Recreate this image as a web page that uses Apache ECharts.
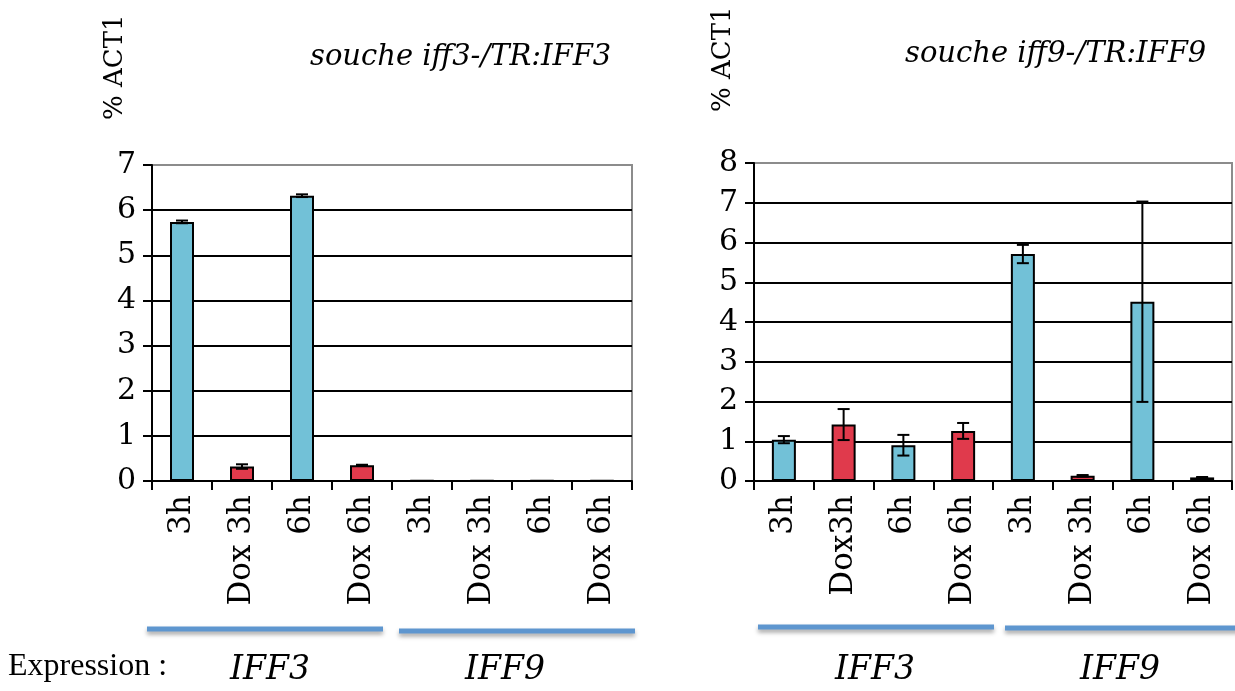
<!DOCTYPE html>
<html>
<head>
<meta charset="utf-8">
<script src="https://cdn.jsdelivr.net/npm/echarts@6/dist/echarts.min.js"></script>
<style>
html,body{margin:0;padding:0;background:#fff;}
#chart{width:1235px;height:691px;}
</style>
</head>
<body>
<div id="chart"></div>
<script>
// ---- data ----
const categoriesLeft = ['3h', 'Dox 3h', '6h', 'Dox 6h', '3h', 'Dox 3h', '6h', 'Dox 6h'];
const categoriesRight = ['3h', 'Dox3h', '6h', 'Dox 6h', '3h', 'Dox 3h', '6h', 'Dox 6h'];
const valuesLeft = [5.74, 0.32, 6.32, 0.35, 0.01, 0.01, 0.01, 0.01];
const errorsLeft = [0.03, 0.05, 0.03, 0.01, 0, 0, 0, 0];
const valuesRight = [1.04, 1.42, 0.90, 1.26, 5.71, 0.13, 4.51, 0.09];
const errorsRight = [0.09, 0.39, 0.26, 0.20, 0.23, 0.02, 2.52, 0.01];
const yTicksLeft = [0, 1, 2, 3, 4, 5, 6, 7];
const yTicksRight = [0, 1, 2, 3, 4, 5, 6, 7, 8];
const titleLeft = 'souche iff3-/TR:IFF3';
const titleRight = 'souche iff9-/TR:IFF9';
const yName = '% ACT1';
const groupNames = ['IFF3', 'IFF9'];
const expressionLabel = 'Expression :';

// ---- style ----
const BLUE = '#72C1D7';
const RED = '#E03A4C';
const FONT = '"DejaVu Serif", "Liberation Serif", serif';
const FONT2 = '"Liberation Serif", "DejaVu Serif", serif';

const chart = echarts.init(document.getElementById('chart'));

function barColor(cats) {
  return p => (cats[p.dataIndex].indexOf('Dox') === 0 ? RED : BLUE);
}
function errData(vals, errs) {
  return vals.map((v, i) => [i, Math.max(0, v - errs[i]), v + errs[i]]);
}
function renderErr(params, api) {
  const x = api.value(0), lo = api.value(1), hi = api.value(2);
  if (hi - lo <= 0) return null;
  const a = api.coord([x, hi]);
  const b = api.coord([x, lo]);
  const w = 12;
  const st = {stroke: '#000', lineWidth: 2};
  return {
    type: 'group',
    children: [
      {type: 'line', shape: {x1: a[0], y1: a[1], x2: b[0], y2: b[1]}, style: st},
      {type: 'line', shape: {x1: a[0] - w / 2, y1: a[1], x2: a[0] + w / 2, y2: a[1]}, style: st},
      {type: 'line', shape: {x1: b[0] - w / 2, y1: b[1], x2: b[0] + w / 2, y2: b[1]}, style: st}
    ]
  };
}
function splitColors(n) {
  const arr = [];
  for (let i = 0; i < n; i++) arr.push(i === n - 1 ? '#8c8c8c' : '#000');
  return arr;
}
function xAxisFor(idx, cats) {
  return {
    type: 'category', gridIndex: idx, data: cats,
    axisLine: {lineStyle: {color: '#000', width: 2}},
    axisTick: {show: true, length: 9, lineStyle: {color: '#000', width: 2}},
    axisLabel: {rotate: 90, margin: 14, color: '#000', fontFamily: FONT, fontSize: 31, interval: 0}
  };
}
function yAxisFor(idx, ticks) {
  return {
    type: 'value', gridIndex: idx, min: ticks[0], max: ticks[ticks.length - 1], interval: 1,
    axisLine: {show: true, lineStyle: {color: '#000', width: 2}},
    axisTick: {show: true, length: 9, lineStyle: {color: '#000', width: 2}},
    axisLabel: {margin: 16, color: '#000', fontFamily: FONT, fontSize: 30},
    splitLine: {show: true, lineStyle: {color: splitColors(ticks.length), width: 2}}
  };
}

const option = {
  animation: false,
  backgroundColor: '#fff',
  grid: [
    {left: 152, top: 165, width: 480, height: 316, show: true, borderColor: '#8c8c8c', borderWidth: 2, backgroundColor: 'transparent'},
    {left: 754, top: 163, width: 478, height: 318, show: true, borderColor: '#8c8c8c', borderWidth: 2, backgroundColor: 'transparent'}
  ],
  title: [
    {text: titleLeft, left: 305, top: 38, textStyle: {fontFamily: FONT, fontStyle: 'italic', fontWeight: 'normal', fontSize: 29, color: '#000'}},
    {text: titleRight, left: 900, top: 35, textStyle: {fontFamily: FONT, fontStyle: 'italic', fontWeight: 'normal', fontSize: 29, color: '#000'}}
  ],
  xAxis: [xAxisFor(0, categoriesLeft), xAxisFor(1, categoriesRight)],
  yAxis: [yAxisFor(0, yTicksLeft), yAxisFor(1, yTicksRight)],
  series: [
    {type: 'bar', xAxisIndex: 0, yAxisIndex: 0, data: valuesLeft, barWidth: 24,
     itemStyle: {color: barColor(categoriesLeft), borderColor: '#000', borderWidth: 2}},
    {type: 'custom', xAxisIndex: 0, yAxisIndex: 0, data: errData(valuesLeft, errorsLeft), renderItem: renderErr, z: 5},
    {type: 'bar', xAxisIndex: 1, yAxisIndex: 1, data: valuesRight, barWidth: 24,
     itemStyle: {color: barColor(categoriesRight), borderColor: '#000', borderWidth: 2}},
    {type: 'custom', xAxisIndex: 1, yAxisIndex: 1, data: errData(valuesRight, errorsRight), renderItem: renderErr, z: 5}
  ],
  graphic: [
    {type: 'text', x: 102, y: 120, rotation: Math.PI / 2, style: {text: yName, fontFamily: FONT, fontSize: 26, fill: '#000', textAlign: 'left', textVerticalAlign: 'top'}},
    {type: 'text', x: 710, y: 112, rotation: Math.PI / 2, style: {text: yName, fontFamily: FONT, fontSize: 26, fill: '#000', textAlign: 'left', textVerticalAlign: 'top'}},
    // group underline bars
    {type: 'line', shape: {x1: 147, y1: 629, x2: 383, y2: 629}, style: {stroke: '#5E96CF', lineWidth: 5, shadowBlur: 4, shadowColor: 'rgba(0,0,0,0.35)', shadowOffsetY: 3}},
    {type: 'line', shape: {x1: 399, y1: 631, x2: 635, y2: 631}, style: {stroke: '#5E96CF', lineWidth: 5, shadowBlur: 4, shadowColor: 'rgba(0,0,0,0.35)', shadowOffsetY: 3}},
    {type: 'line', shape: {x1: 758, y1: 627, x2: 994, y2: 627}, style: {stroke: '#5E96CF', lineWidth: 5, shadowBlur: 4, shadowColor: 'rgba(0,0,0,0.35)', shadowOffsetY: 3}},
    {type: 'line', shape: {x1: 1005, y1: 628, x2: 1240, y2: 628}, style: {stroke: '#5E96CF', lineWidth: 5, shadowBlur: 4, shadowColor: 'rgba(0,0,0,0.35)', shadowOffsetY: 3}},
    {type: 'text', x: 8, y: 667, style: {text: expressionLabel, fontFamily: FONT2, fontSize: 32, fill: '#000', textAlign: 'left', textVerticalAlign: 'middle'}},
    {type: 'text', x: 270, y: 670, style: {text: groupNames[0], fontFamily: FONT, fontStyle: 'italic', fontSize: 33, fill: '#000', textAlign: 'center', textVerticalAlign: 'middle'}},
    {type: 'text', x: 505, y: 670, style: {text: groupNames[1], fontFamily: FONT, fontStyle: 'italic', fontSize: 33, fill: '#000', textAlign: 'center', textVerticalAlign: 'middle'}},
    {type: 'text', x: 875, y: 670, style: {text: groupNames[0], fontFamily: FONT, fontStyle: 'italic', fontSize: 33, fill: '#000', textAlign: 'center', textVerticalAlign: 'middle'}},
    {type: 'text', x: 1120, y: 670, style: {text: groupNames[1], fontFamily: FONT, fontStyle: 'italic', fontSize: 33, fill: '#000', textAlign: 'center', textVerticalAlign: 'middle'}}
  ]
};
chart.setOption(option);
</script>
</body>
</html>
